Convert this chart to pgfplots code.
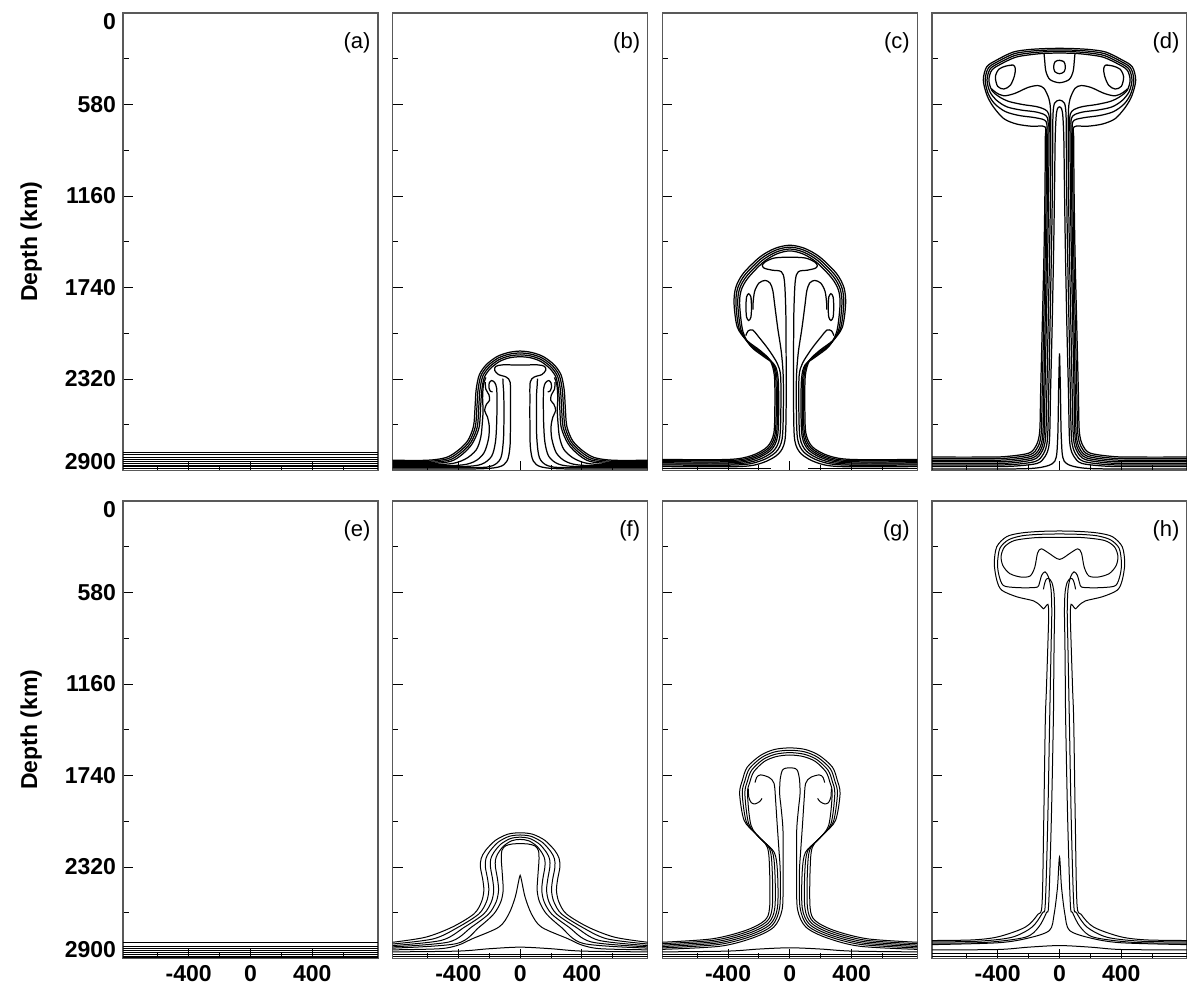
\documentclass[border=0pt]{standalone}
\usepackage{fontspec}
\setmainfont{Liberation Sans}
\usepackage{pgfplots}
\pgfplotsset{compat=1.18}
\pgfplotsset{
  panel/.style={
    scale only axis, width=127.5pt, height=228.75pt,
    xmin=-825, xmax=825, ymin=0, ymax=2900, y dir=reverse,
    anchor=north west, clip=true,
    tick align=inside, xtick pos=bottom, ytick pos=left,
    xtick={-400,0,400}, minor xtick={-600,-200,200,600},
    ytick={0,580,1160,1740,2320,2900}, minor ytick={290,870,1450,2030,2610},
    major tick length=5pt, minor tick length=2.8pt,
    xticklabels={}, yticklabels={},
    axis line style={black!65, line width=0.6pt},
    tick style={black, line width=0.5pt},
    tick label style={font=\bfseries\fontsize{11.5}{13}\selectfont},
  },
  leftcol/.style={
    extra y ticks={57,580,1160,1740,2320,2843},
    extra y tick labels={0,580,1160,1740,2320,2900},
    extra y tick style={major tick length=0pt},
    ylabel={Depth (km)},
    every axis y label/.style={at={(axis description cs:-0.36,0.5)}, rotate=90, anchor=center, font=\bfseries\fontsize{11.5}{13}\selectfont},
  },
  botrow/.style={xticklabels={-400,0,400}},
  ctr/.style={black, line width=0.5pt, smooth, tension=0.5, mark=none},
  ctrT/.style={black, line width=0.62pt, smooth, tension=0.5, mark=none},
  flat/.style={black, line width=0.45pt, sharp plot, mark=none},
}
\tikzset{lab/.style={anchor=north east, inner sep=0pt, font=\fontsize{11}{13}\selectfont}}
\begin{document}
\begin{tikzpicture}
\path[use as bounding box] (0pt,0pt) rectangle (593.5pt,-494pt);

% ---------------- (a)
\begin{axis}[panel, leftcol, at={(61.5pt,-6.5pt)}]
\addplot[flat] coordinates {(-825,2787) (825,2787)};
\addplot[flat] coordinates {(-825,2800) (825,2800)};
\addplot[flat] coordinates {(-825,2815) (825,2815)};
\addplot[flat] coordinates {(-825,2828) (825,2828)};
\addplot[flat] coordinates {(-825,2842) (825,2842)};
\addplot[flat] coordinates {(-825,2855) (825,2855)};
\addplot[flat] coordinates {(-825,2866) (825,2866)};
\addplot[flat] coordinates {(-825,2877) (825,2877)};
\addplot[flat] coordinates {(-825,2888) (825,2888)};
\node[lab] at (axis description cs:0.972,0.958) {(a)};
\end{axis}

% ---------------- (b)
\begin{axis}[panel, at={(196.33pt,-6.5pt)}]
\addplot[ctrT] coordinates {(-825,2835) (-600,2835) (-480,2818) (-405,2775) (-340,2712) (-302,2620) (-292,2500) (-285,2390) (-265,2295) (-220,2230) (-150,2178) (-75,2152) (0,2143) (75,2152) (150,2178) (220,2230) (265,2295) (285,2390) (292,2500) (302,2620) (340,2712) (405,2775) (480,2818) (600,2835) (825,2835)};
\addplot[ctrT] coordinates {(-825,2842) (-600,2842) (-470,2826) (-395,2782) (-330,2718) (-290,2622) (-280,2500) (-273,2392) (-254,2300) (-211,2238) (-144,2188) (-72,2163) (0,2155) (72,2163) (144,2188) (211,2238) (254,2300) (273,2392) (280,2500) (290,2622) (330,2718) (395,2782) (470,2826) (600,2842) (825,2842)};
\addplot[ctrT] coordinates {(-825,2849) (-590,2849) (-460,2834) (-385,2790) (-320,2724) (-278,2625) (-268,2500) (-261,2394) (-243,2305) (-202,2246) (-138,2198) (-69,2174) (0,2167) (69,2174) (138,2198) (202,2246) (243,2305) (261,2394) (268,2500) (278,2625) (320,2724) (385,2790) (460,2834) (590,2849) (825,2849)};
\addplot[ctrT] coordinates {(-825,2856) (-580,2856) (-450,2842) (-375,2798) (-310,2730) (-266,2628) (-256,2500) (-249,2396) (-232,2310) (-193,2254) (-132,2208) (-66,2185) (0,2179) (66,2185) (132,2208) (193,2254) (232,2310) (249,2396) (256,2500) (266,2628) (310,2730) (375,2798) (450,2842) (580,2856) (825,2856)};
\addplot[ctrT] coordinates {(-825,2862) (-480,2860) (-360,2830) (-285,2770) (-255,2690) (-245,2600) (-240,2520) (-243,2440) (-238,2360) (-222,2310)};
\addplot[ctrT] coordinates {(825,2862) (480,2860) (360,2830) (285,2770) (255,2690) (245,2600) (240,2520) (243,2440) (238,2360) (222,2310)};
\addplot[ctrT] coordinates {(-825,2869) (-420,2868) (-300,2845) (-235,2790) (-205,2700) (-200,2620) (-212,2560) (-230,2520) (-218,2480) (-198,2455) (-202,2420) (-222,2385) (-226,2340)};
\addplot[ctrT] coordinates {(825,2869) (420,2868) (300,2845) (235,2790) (205,2700) (200,2620) (212,2560) (230,2520) (218,2480) (198,2455) (202,2420) (222,2385) (226,2340)};
\addplot[ctrT] coordinates {(-825,2876) (-380,2875) (-250,2860) (-185,2810) (-160,2720) (-152,2600) (-150,2480) (-152,2380) (-165,2342) (-185,2330) (-200,2345) (-202,2375) (-192,2398) (-178,2400)};
\addplot[ctrT] coordinates {(825,2876) (380,2875) (250,2860) (185,2810) (160,2720) (152,2600) (150,2480) (152,2380) (165,2342) (185,2330) (200,2345) (202,2375) (192,2398) (178,2400)};
\addplot[ctrT] coordinates {(-825,2883) (-300,2882) (-180,2870) (-125,2820) (-108,2700) (-105,2550) (-106,2420) (-110,2360) (-112,2318)};
\addplot[ctrT] coordinates {(825,2883) (300,2882) (180,2870) (125,2820) (108,2700) (105,2550) (106,2420) (110,2360) (112,2318)};
\addplot[ctrT] coordinates {(-825,2890) (-300,2890) (-140,2878) (-85,2840) (-66,2750) (-63,2600) (-63,2450) (-65,2340) (-90,2308) (-140,2292) (-165,2265) (-158,2240) (-110,2230) (0,2232) (110,2230) (158,2240) (165,2265) (140,2292) (90,2308) (65,2340) (63,2450) (63,2600) (66,2750) (85,2840) (140,2878) (300,2890) (825,2890)};
\node[lab] at (axis description cs:0.972,0.958) {(b)};
\end{axis}

% ---------------- (c)
\begin{axis}[panel, at={(331.17pt,-6.5pt)}]
\addplot[ctrT] coordinates {(-825,2830) (-396,2830) (-246,2805) (-146,2750) (-104,2665) (-97,2500) (-100,2300) (-128,2202) (-193,2139) (-279,2075) (-340,1991) (-361,1842) (-350,1740) (-301,1650) (-193,1546) (-96,1492) (0,1472) (96,1492) (193,1546) (301,1650) (350,1740) (361,1842) (340,1991) (279,2075) (193,2139) (128,2202) (100,2300) (97,2500) (104,2665) (146,2750) (246,2805) (396,2830) (825,2830)};
\addplot[ctrT] coordinates {(-825,2837) (-388,2837) (-238,2812) (-138,2757) (-96,2672) (-88,2500) (-92,2305) (-118,2212) (-185,2152) (-270,2088) (-328,2000) (-349,1843) (-338,1745) (-291,1660) (-187,1558) (-93,1504) (0,1484) (93,1504) (187,1558) (291,1660) (338,1745) (349,1843) (328,2000) (270,2088) (185,2152) (118,2212) (92,2305) (88,2500) (96,2672) (138,2757) (238,2812) (388,2837) (825,2837)};
\addplot[ctrT] coordinates {(-825,2844) (-380,2844) (-230,2819) (-130,2764) (-88,2679) (-80,2500) (-84,2310) (-108,2222) (-177,2165) (-261,2101) (-316,2009) (-337,1844) (-326,1750) (-281,1670) (-181,1570) (-90,1516) (0,1496) (90,1516) (181,1570) (281,1670) (326,1750) (337,1844) (316,2009) (261,2101) (177,2165) (108,2222) (84,2310) (80,2500) (88,2679) (130,2764) (230,2819) (380,2844) (825,2844)};
\addplot[ctrT] coordinates {(-825,2851) (-372,2851) (-222,2826) (-122,2771) (-80,2686) (-72,2500) (-76,2315) (-98,2232) (-169,2178) (-252,2114) (-304,2018) (-325,1845) (-314,1755) (-271,1680) (-175,1582) (-87,1528) (0,1508) (87,1528) (175,1582) (271,1680) (314,1755) (325,1845) (304,2018) (252,2114) (169,2178) (98,2232) (76,2315) (72,2500) (80,2686) (122,2771) (222,2826) (372,2851) (825,2851)};
\addplot[ctrT] coordinates {(-825,2858) (-358,2858) (-208,2833) (-108,2778) (-66,2693) (-58,2500) (-60,2300) (-82,2220) (-140,2130) (-200,2055) (-240,2010) (-270,2015) (-285,2045)};
\addplot[ctrT] coordinates {(825,2858) (358,2858) (208,2833) (108,2778) (66,2693) (58,2500) (60,2300) (82,2220) (140,2130) (200,2055) (240,2010) (270,2015) (285,2045)};
\addplot[ctrT] coordinates {(-825,2865) (-342,2865) (-192,2840) (-92,2785) (-50,2700) (-42,2500) (-43,2300) (-55,2150) (-78,2000) (-98,1850) (-110,1760) (-128,1712) (-160,1695) (-200,1712) (-228,1765) (-238,1840) (-238,1880)};
\addplot[ctrT] coordinates {(825,2865) (342,2865) (192,2840) (92,2785) (50,2700) (42,2500) (43,2300) (55,2150) (78,2000) (98,1850) (110,1760) (128,1712) (160,1695) (200,1712) (228,1765) (238,1840) (238,1880)};
\addplot[ctrT] coordinates {(-825,2875) (-324,2875) (-174,2850) (-74,2795) (-32,2710) (-24,2500) (-24,2200) (-26,1900) (-35,1700) (-55,1640) (-115,1630) (-165,1618) (-178,1600) (-160,1578) (-100,1553) (0,1548) (100,1553) (160,1578) (178,1600) (165,1618) (115,1630) (55,1640) (35,1700) (26,1900) (24,2200) (24,2500) (32,2710) (74,2795) (174,2850) (324,2875) (825,2875)};
\addplot[ctrT] coordinates {(-252,1800) (-248,1864) (-252,1928) (-266,1949) (-280,1928) (-284,1864) (-280,1800) (-266,1779) (-252,1800) (-248,1840)};
\addplot[ctrT] coordinates {(252,1800) (248,1864) (252,1928) (266,1949) (280,1928) (284,1864) (280,1800) (266,1779) (252,1800) (248,1840)};
\addplot[flat] coordinates {(-825,2888) (-120,2888)};
\addplot[flat] coordinates {(120,2888) (825,2888)};
\node[lab] at (axis description cs:0.972,0.958) {(c)};
\end{axis}

% ---------------- (d)
\begin{axis}[panel, at={(466pt,-6.5pt)}]
\addplot[ctrT] coordinates {(-825,2815) (-500,2815) (-353,2812) (-199,2790) (-150,2740) (-128,2650) (-122,2400) (-112,2000) (-100,1500) (-94,1100) (-92,800) (-94,722) (-180,718) (-277,704) (-360,670) (-428,595) (-470,520) (-493,425) (-471,341) (-406,298) (-301,248) (-200,232) (-100,226) (0,224) (100,226) (200,232) (301,248) (406,298) (471,341) (493,425) (470,520) (428,595) (360,670) (277,704) (180,718) (94,722) (92,800) (94,1100) (100,1500) (112,2000) (122,2400) (128,2650) (150,2740) (199,2790) (353,2812) (500,2815) (825,2815)};
\addplot[ctrT] coordinates {(-825,2825) (-490,2825) (-343,2822) (-190,2800) (-140,2750) (-118,2660) (-112,2400) (-103,2000) (-92,1500) (-86,1100) (-84,800) (-86,690) (-150,665) (-260,650) (-350,625) (-420,575) (-462,510) (-481,425) (-460,348) (-398,307) (-296,259) (-198,243) (-100,236) (0,234) (100,236) (198,243) (296,259) (398,307) (460,348) (481,425) (462,510) (420,575) (350,625) (260,650) (150,665) (86,690) (84,800) (86,1100) (92,1500) (103,2000) (112,2400) (118,2660) (140,2750) (190,2800) (343,2822) (490,2825) (825,2825)};
\addplot[ctrT] coordinates {(-825,2835) (-480,2835) (-333,2832) (-182,2810) (-130,2760) (-108,2670) (-102,2400) (-94,2000) (-84,1500) (-78,1100) (-76,800) (-78,665) (-140,630) (-250,615) (-340,595) (-405,555) (-450,500) (-469,425) (-449,355) (-390,316) (-291,270) (-196,254) (-100,246) (0,244) (100,246) (196,254) (291,270) (390,316) (449,355) (469,425) (450,500) (405,555) (340,595) (250,615) (140,630) (78,665) (76,800) (78,1100) (84,1500) (94,2000) (102,2400) (108,2670) (130,2760) (182,2810) (333,2832) (480,2835) (825,2835)};
\addplot[ctrT] coordinates {(-825,2845) (-470,2845) (-323,2842) (-174,2820) (-122,2770) (-100,2680) (-94,2400) (-86,2000) (-76,1500) (-70,1100) (-68,800) (-70,640) (-130,598) (-240,580) (-330,560) (-392,530) (-438,490) (-457,425) (-438,362) (-382,325) (-286,281) (-194,265) (-100,256) (0,254) (100,256) (194,265) (286,281) (382,325) (438,362) (457,425) (438,490) (392,530) (330,560) (240,580) (130,598) (70,640) (68,800) (70,1100) (76,1500) (86,2000) (94,2400) (100,2680) (122,2770) (174,2820) (323,2842) (470,2845) (825,2845)};
\addplot[ctrT] coordinates {(-100,258) (-96,300) (-88,370) (-62,422) (0,442) (62,422) (88,370) (96,300) (100,258)};
\addplot[ctrT] coordinates {(0,300) (28,308) (38,340) (30,372) (0,385) (-30,372) (-38,340) (-28,308) (0,300) (28,308)};
\addplot[ctrT] coordinates {(-300,330) (-345,336) (-392,356) (-415,405) (-400,465) (-360,482) (-318,458) (-292,400) (-286,352) (-300,330) (-345,336)};
\addplot[ctrT] coordinates {(300,330) (345,336) (392,356) (415,405) (400,465) (360,482) (318,458) (292,400) (286,352) (300,330) (345,336)};
\addplot[ctrT] coordinates {(-825,2855) (-460,2855) (-313,2852) (-166,2830) (-114,2780) (-90,2690) (-82,2400) (-74,2000) (-64,1500) (-58,1100) (-57,800) (-58,620) (-68,545) (-100,478) (-140,460) (-204,472) (-290,510) (-360,525) (-410,505) (-440,480)};
\addplot[ctrT] coordinates {(825,2855) (460,2855) (313,2852) (166,2830) (114,2780) (90,2690) (82,2400) (74,2000) (64,1500) (58,1100) (57,800) (58,620) (68,545) (100,478) (140,460) (204,472) (290,510) (360,525) (410,505) (440,480)};
\addplot[ctrT] coordinates {(-825,2865) (-450,2865) (-300,2862) (-155,2842) (-104,2795) (-78,2700) (-70,2400) (-62,2000) (-52,1500) (-46,1100) (-44,800) (-42,640) (-32,572) (0,552) (32,572) (42,640) (44,800) (46,1100) (52,1500) (62,2000) (70,2400) (78,2700) (104,2795) (155,2842) (300,2862) (450,2865) (825,2865)};
\addplot[ctrT] coordinates {(-825,2875) (-440,2875) (-290,2872) (-145,2855) (-94,2812) (-66,2720) (-58,2400) (-48,2000) (-38,1500) (-32,1100) (-28,800) (-22,660) (-14,608) (0,595) (14,608) (22,660) (28,800) (32,1100) (38,1500) (48,2000) (58,2400) (66,2720) (94,2812) (145,2855) (290,2872) (440,2875) (825,2875)};
\addplot[ctrT] coordinates {(-825,2890) (-300,2890) (-120,2880) (-30,2840) (-12,2700) (-6,2400) (-2,2220) (0,2158) (2,2220) (6,2400) (12,2700) (30,2840) (120,2880) (300,2890) (825,2890)};
\node[lab] at (axis description cs:0.972,0.958) {(d)};
\end{axis}

% ---------------- (e)
\begin{axis}[panel, leftcol, botrow, at={(61.5pt,-250.5pt)}]
\addplot[flat] coordinates {(-825,2797) (825,2797)};
\addplot[flat] coordinates {(-825,2822) (825,2822)};
\addplot[flat] coordinates {(-825,2835) (825,2835)};
\addplot[flat] coordinates {(-825,2848) (825,2848)};
\addplot[flat] coordinates {(-825,2860) (825,2860)};
\addplot[flat] coordinates {(-825,2872) (825,2872)};
\addplot[flat] coordinates {(-825,2884) (825,2884)};
\addplot[flat] coordinates {(-825,2895) (825,2895)};
\node[lab] at (axis description cs:0.972,0.958) {(e)};
\end{axis}

% ---------------- (f)
\begin{axis}[panel, botrow, at={(196.33pt,-250.5pt)}]
\addplot[ctr] coordinates {(-825,2797) (-612,2765) (-440,2701) (-299,2617) (-250,2540) (-235,2469) (-242,2400) (-257,2321) (-252,2265) (-224,2215) (-160,2151) (-80,2112) (0,2103) (80,2112) (160,2151) (224,2215) (252,2265) (257,2321) (242,2400) (235,2469) (250,2540) (299,2617) (440,2701) (612,2765) (825,2797)};
\addplot[ctr] coordinates {(-825,2808) (-560,2775) (-400,2701) (-267,2617) (-218,2540) (-203,2469) (-210,2400) (-225,2321) (-222,2268) (-198,2222) (-143,2163) (-72,2126) (0,2117) (72,2126) (143,2163) (198,2222) (222,2268) (225,2321) (210,2400) (203,2469) (218,2540) (267,2617) (400,2701) (560,2775) (825,2808)};
\addplot[ctr] coordinates {(-825,2818) (-510,2785) (-360,2701) (-235,2617) (-186,2540) (-171,2469) (-178,2400) (-192,2321) (-191,2272) (-172,2230) (-126,2176) (-64,2140) (0,2131) (64,2140) (126,2176) (172,2230) (191,2272) (192,2321) (178,2400) (171,2469) (186,2540) (235,2617) (360,2701) (510,2785) (825,2818)};
\addplot[ctr] coordinates {(-825,2826) (-460,2795) (-315,2701) (-203,2617) (-155,2540) (-140,2469) (-146,2400) (-160,2321) (-160,2276) (-146,2238) (-109,2189) (-56,2154) (0,2145) (56,2154) (109,2189) (146,2238) (160,2276) (160,2321) (146,2400) (140,2469) (155,2540) (203,2617) (315,2701) (460,2795) (825,2826)};
\addplot[ctr] coordinates {(-825,2834) (-410,2805) (-265,2701) (-170,2617) (-125,2540) (-110,2469) (-113,2400) (-118,2330) (-122,2270) (-118,2215) (-95,2186) (-50,2174) (0,2172) (50,2174) (95,2186) (118,2215) (122,2270) (118,2330) (113,2400) (110,2469) (125,2540) (170,2617) (265,2701) (410,2805) (825,2834)};
\addplot[ctr] coordinates {(-825,2845) (-520,2838) (-400,2815) (-310,2775) (-138,2701) (-73,2617) (-32,2511) (-10,2410) (0,2373) (10,2410) (32,2511) (73,2617) (138,2701) (310,2775) (400,2815) (520,2838) (825,2845)};
\addplot[ctr] coordinates {(-825,2858) (-400,2853) (-200,2838) (0,2828) (200,2838) (400,2853) (825,2858)};
\addplot[flat] coordinates {(-825,2875) (825,2875)};
\addplot[flat] coordinates {(-825,2890) (825,2890)};
\node[lab] at (axis description cs:0.972,0.958) {(f)};
\end{axis}

% ---------------- (g)
\begin{axis}[panel, botrow, at={(331.17pt,-250.5pt)}]
\addplot[ctr] coordinates {(-825,2797) (-501,2775) (-286,2722) (-163,2659) (-131,2577) (-131,2342) (-146,2194) (-221,2109) (-296,2024) (-325,1855) (-307,1770) (-275,1686) (-189,1612) (-100,1575) (0,1565) (100,1575) (189,1612) (275,1686) (307,1770) (325,1855) (296,2024) (221,2109) (146,2194) (131,2342) (131,2577) (163,2659) (286,2722) (501,2775) (825,2797)};
\addplot[ctr] coordinates {(-825,2806) (-490,2784) (-276,2731) (-151,2667) (-114,2577) (-114,2345) (-131,2205) (-208,2122) (-281,2035) (-308,1855) (-291,1774) (-261,1696) (-181,1625) (-96,1590) (0,1580) (96,1590) (181,1625) (261,1696) (291,1774) (308,1855) (281,2035) (208,2122) (131,2205) (114,2345) (114,2577) (151,2667) (276,2731) (490,2784) (825,2806)};
\addplot[ctr] coordinates {(-825,2815) (-480,2793) (-266,2740) (-139,2675) (-97,2577) (-97,2348) (-116,2216) (-195,2135) (-266,2046) (-291,1855) (-275,1778) (-247,1706) (-173,1638) (-92,1605) (0,1595) (92,1605) (173,1638) (247,1706) (275,1778) (291,1855) (266,2046) (195,2135) (116,2216) (97,2348) (97,2577) (139,2675) (266,2740) (480,2793) (825,2815)};
\addplot[ctr] coordinates {(-825,2824) (-470,2802) (-256,2749) (-127,2683) (-80,2577) (-80,2351) (-101,2227) (-182,2148) (-251,2057) (-274,1855) (-259,1782) (-233,1716) (-165,1651) (-88,1620) (0,1610) (88,1620) (165,1651) (233,1716) (259,1782) (274,1855) (251,2057) (182,2148) (101,2227) (80,2351) (80,2577) (127,2683) (256,2749) (470,2802) (825,2824)};
\addplot[ctr] coordinates {(-825,2833) (-460,2811) (-246,2758) (-115,2691) (-66,2577) (-62,2354) (-70,2220) (-82,2050) (-92,1900) (-102,1790) (-135,1752) (-190,1736) (-215,1752) (-225,1785)};
\addplot[ctr] coordinates {(825,2833) (460,2811) (246,2758) (115,2691) (66,2577) (62,2354) (70,2220) (82,2050) (92,1900) (102,1790) (135,1752) (190,1736) (215,1752) (225,1785)};
\addplot[ctr] coordinates {(-825,2842) (-450,2822) (-236,2768) (-103,2700) (-50,2590) (-44,2400) (-44,2100) (-56,1950) (-66,1855) (-62,1760) (-48,1706) (-25,1693) (0,1691) (25,1693) (48,1706) (62,1760) (66,1855) (56,1950) (44,2100) (44,2400) (50,2590) (103,2700) (236,2768) (450,2822) (825,2842)};
\addplot[ctr] coordinates {(-268,1823) (-266,1875) (-250,1912) (-225,1920) (-195,1905) (-180,1885)};
\addplot[ctr] coordinates {(268,1823) (266,1875) (250,1912) (225,1920) (195,1905) (180,1885)};
\addplot[ctr] coordinates {(-825,2858) (-400,2853) (-200,2840) (0,2832) (200,2840) (400,2853) (825,2858)};
\addplot[flat] coordinates {(-825,2875) (825,2875)};
\addplot[flat] coordinates {(-825,2890) (825,2890)};
\node[lab] at (axis description cs:0.972,0.958) {(g)};
\end{axis}

% ---------------- (h)
\begin{axis}[panel, botrow, at={(466pt,-250.5pt)}]
\addplot[ctr] coordinates {(-825,2786) (-560,2782) (-395,2762) (-221,2701) (-140,2620) (-113,2553) (-102,2024) (-92,1400) (-85,1200) (-75,900) (-70,720) (-75,655) (-92,672) (-105,683) (-125,662) (-168,633) (-277,607) (-374,565) (-406,501) (-422,396) (-406,290) (-342,226) (-250,203) (-130,193) (0,190) (130,193) (250,203) (342,226) (406,290) (422,396) (406,501) (374,565) (277,607) (168,633) (125,662) (105,683) (92,672) (75,655) (70,720) (75,900) (85,1200) (92,1400) (102,2024) (113,2553) (140,2620) (221,2701) (395,2762) (560,2782) (825,2786)};
\addplot[ctr] coordinates {(-825,2795) (-520,2790) (-307,2765) (-178,2701) (-110,2610) (-92,2553) (-76,2024) (-64,1400) (-60,1200) (-54,900) (-50,700) (-55,560) (-72,480) (-94,449) (-115,470) (-130,520) (-142,545) (-200,550) (-290,548) (-364,535) (-392,470) (-401,396) (-386,300) (-330,246) (-240,220) (-120,211) (0,209) (120,211) (240,220) (330,246) (386,300) (401,396) (392,470) (364,535) (290,548) (200,550) (142,545) (130,520) (115,470) (94,449) (72,480) (55,560) (50,700) (54,900) (60,1200) (64,1400) (76,2024) (92,2553) (110,2610) (178,2701) (307,2765) (520,2790) (825,2795)};
\addplot[ctr] coordinates {(0,230) (-150,232) (-290,250) (-355,290) (-378,350) (-366,410) (-322,460) (-250,482) (-190,475) (-160,420) (-142,330) (-118,303) (-70,330) (0,370) (70,330) (118,303) (142,330) (160,420) (190,475) (250,482) (322,460) (366,410) (378,350) (355,290) (290,250) (150,232) (0,230) (-150,232)};
\addplot[ctr] coordinates {(-825,2803) (-480,2798) (-221,2765) (-135,2701) (-85,2610) (-70,2553) (-53,2024) (-40,1400) (-38,1200) (-35,900) (-32,700) (-36,580) (-50,515) (-72,490) (-88,500) (-98,530) (-104,560)};
\addplot[ctr] coordinates {(825,2803) (480,2798) (221,2765) (135,2701) (85,2610) (70,2553) (53,2024) (40,1400) (38,1200) (35,900) (32,700) (36,580) (50,515) (72,490) (88,500) (98,530) (104,560)};
\addplot[ctr] coordinates {(-825,2812) (-395,2800) (-200,2770) (-65,2722) (-35,2620) (-13,2448) (0,2257) (13,2448) (35,2620) (65,2722) (200,2770) (395,2800) (825,2812)};
\addplot[ctr] coordinates {(-825,2845) (-400,2843) (-200,2828) (0,2818) (200,2828) (400,2843) (825,2845)};
\addplot[flat] coordinates {(-825,2868) (825,2868)};
\addplot[flat] coordinates {(-825,2888) (825,2888)};
\node[lab] at (axis description cs:0.972,0.958) {(h)};
\end{axis}
\end{tikzpicture}
\end{document}
